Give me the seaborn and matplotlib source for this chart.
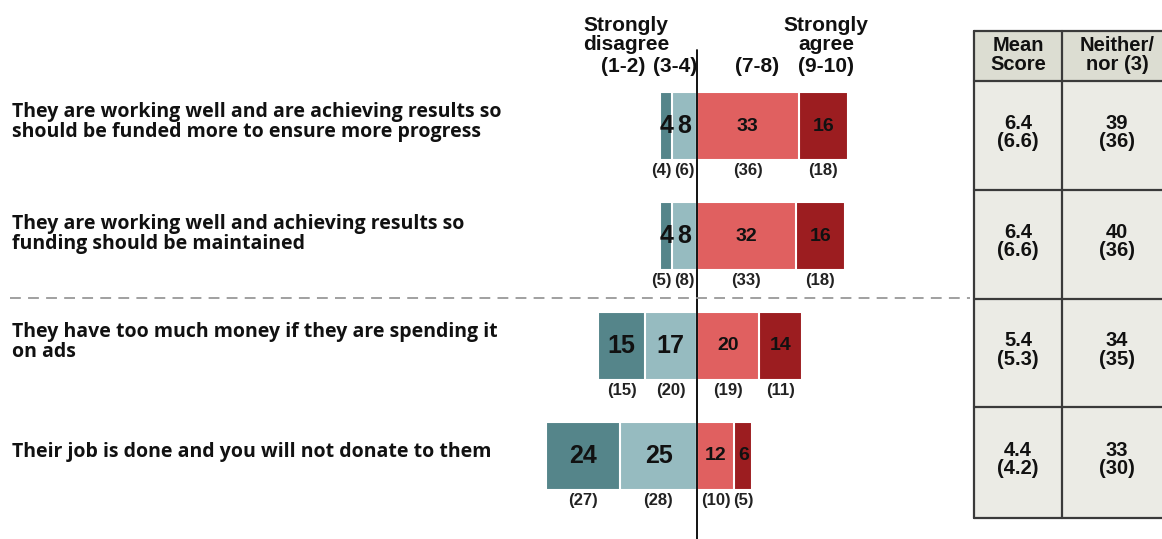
import matplotlib
matplotlib.use("Agg")
import matplotlib.pyplot as plt
import seaborn as sns
import pandas as pd
from matplotlib.patches import Rectangle

# statements (rows) and current / previous (in brackets) percentages
statements = [
    "They are working well and are achieving results so\nshould be funded more to ensure more progress",
    "They are working well and achieving results so\nfunding should be maintained",
    "They have too much money if they are spending it\non ads",
    "Their job is done and you will not donate to them",
]
strongly_disagree = [4, 4, 15, 24]
disagree = [8, 8, 17, 25]
agree = [33, 32, 20, 12]
strongly_agree = [16, 16, 14, 6]

prev_strongly_disagree = [4, 5, 15, 27]
prev_disagree = [6, 8, 20, 28]
prev_agree = [36, 33, 19, 10]
prev_strongly_agree = [18, 18, 11, 5]

mean_score = ["6.4", "6.4", "5.4", "4.4"]
prev_mean_score = ["6.6", "6.6", "5.3", "4.2"]
neither = [39, 40, 34, 33]
prev_neither = [36, 36, 35, 30]

DARK_TEAL = "#55858a"
LIGHT_TEAL = "#96bbc0"
LIGHT_RED = "#e06060"
DARK_RED = "#9c1d20"
NUM_FONT = "Liberation Sans"
LABEL_FONT = "Open Sans"

sns.set_style("white")
plt.rcParams["font.family"] = [NUM_FONT, "DejaVu Sans"]

W, H = 1162, 539
fig = plt.figure(figsize=(W / 100, H / 100), dpi=100)
ax = fig.add_axes([0, 0, 1, 1])

df = pd.DataFrame({
    "statement": statements,
    "sd": strongly_disagree,
    "d": disagree,
    "a": agree,
    "sa": strongly_agree,
})
df["left_total"] = -(df["sd"] + df["d"])
df["left_inner"] = -df["d"]
df["right_total"] = df["a"] + df["sa"]
df["right_inner"] = df["a"]

bar_kw = dict(y="statement", orient="h", width=0.62, edgecolor="white",
              linewidth=1.5, saturation=1, ax=ax)
sns.barplot(data=df, x="left_total", color=DARK_TEAL, **bar_kw)
sns.barplot(data=df, x="left_inner", color=LIGHT_TEAL, **bar_kw)
sns.barplot(data=df, x="right_total", color=DARK_RED, **bar_kw)
sns.barplot(data=df, x="right_inner", color=LIGHT_RED, **bar_kw)

# px scale: zero line at x=697, ~3.08 px per point; rows 110 px apart
px_per_unit = 3.08
ax.set_xlim(-697 / px_per_unit, (W - 697) / px_per_unit)
ax.set_ylim(3 + (H - 456) / 110, -126 / 110)
ax.axis("off")

# values inside bars and previous values underneath
min_gap = 7.5  # keep bracketed labels of thin segments apart
for i in range(len(statements)):
    sd, d, a, sa = df.loc[i, ["sd", "d", "a", "sa"]]
    x_sd = min(-(d + sd / 2), -d / 2 - min_gap)
    x_sa = max(a + sa / 2, a / 2 + min_gap)
    segs = [
        (-(d + sd / 2), x_sd, sd, prev_strongly_disagree[i], 18),
        (-d / 2, -d / 2, d, prev_disagree[i], 18),
        (a / 2, a / 2, a, prev_agree[i], 14),
        (a + sa / 2, x_sa, sa, prev_strongly_agree[i], 14),
    ]
    for xc, xp, val, prev, fs in segs:
        ax.text(xc, i, str(val), ha="center", va="center", fontsize=fs,
                fontweight="bold", color="#111111")
        ax.text(xp, i + 0.40, f"({prev})", ha="center", va="center",
                fontsize=12, fontweight="bold", color="#222222")

ax.axvline(0, ymin=0, ymax=1 - 50 / H, color="black", lw=1.3)

# overlay in pixel coordinates for labels, headers and the table
ov = fig.add_axes([0, 0, 1, 1], facecolor="none")
ov.set_xlim(0, W)
ov.set_ylim(H, 0)
ov.axis("off")

row_centres = [126, 238, 346, 456]
for yc, s in zip(row_centres, statements):
    ov.text(12, yc - 4, s, ha="left", va="center", fontsize=14,
            fontweight="bold", family=LABEL_FONT, linespacing=1.0,
            color="#111111")

hdr = dict(ha="center", va="center", fontsize=15, fontweight="bold",
           color="#111111", linespacing=1.0)
ov.text(626, 35, "Strongly\ndisagree", **hdr)
ov.text(826, 35, "Strongly\nagree", **hdr)
ov.text(623, 67, "(1-2)", **hdr)
ov.text(675, 67, "(3-4)", **hdr)
ov.text(757, 67, "(7-8)", **hdr)
ov.text(826, 67, "(9-10)", **hdr)

ov.plot([10, 970], [298, 298], color="#999999", lw=1.3, ls=(0, (6, 4)))

# side table
col_x = [974, 1062, 1180]
row_y = [31, 81, 190, 299, 407, 518]
for r in range(len(row_y) - 1):
    fc = "#dcddd2" if r == 0 else "#ebebe5"
    ov.add_patch(Rectangle((col_x[0], row_y[r]), col_x[2] - col_x[0],
                           row_y[r + 1] - row_y[r], facecolor=fc,
                           edgecolor="none", zorder=1))
for y in row_y:
    ov.plot([col_x[0], col_x[2]], [y, y], color="#3a3a3a", lw=1.6, zorder=2)
for x in col_x[:2]:
    ov.plot([x, x], [row_y[0], row_y[-1]], color="#3a3a3a", lw=1.6, zorder=2)

tbl = dict(ha="center", va="center", fontsize=14.5, fontweight="bold",
           color="#111111", linespacing=0.95, zorder=3)
ov.text(1018, 55, "Mean\nScore", **tbl)
ov.text(1117, 55, "Neither/\nnor (3)", **tbl)
for r in range(4):
    yc = (row_y[r + 1] + row_y[r + 2]) / 2 - 3
    ov.text(1018, yc, f"{mean_score[r]}\n({prev_mean_score[r]})", **tbl)
    ov.text(1117, yc, f"{neither[r]}\n({prev_neither[r]})", **tbl)

fig.savefig("out.png", dpi=100, facecolor="white")
